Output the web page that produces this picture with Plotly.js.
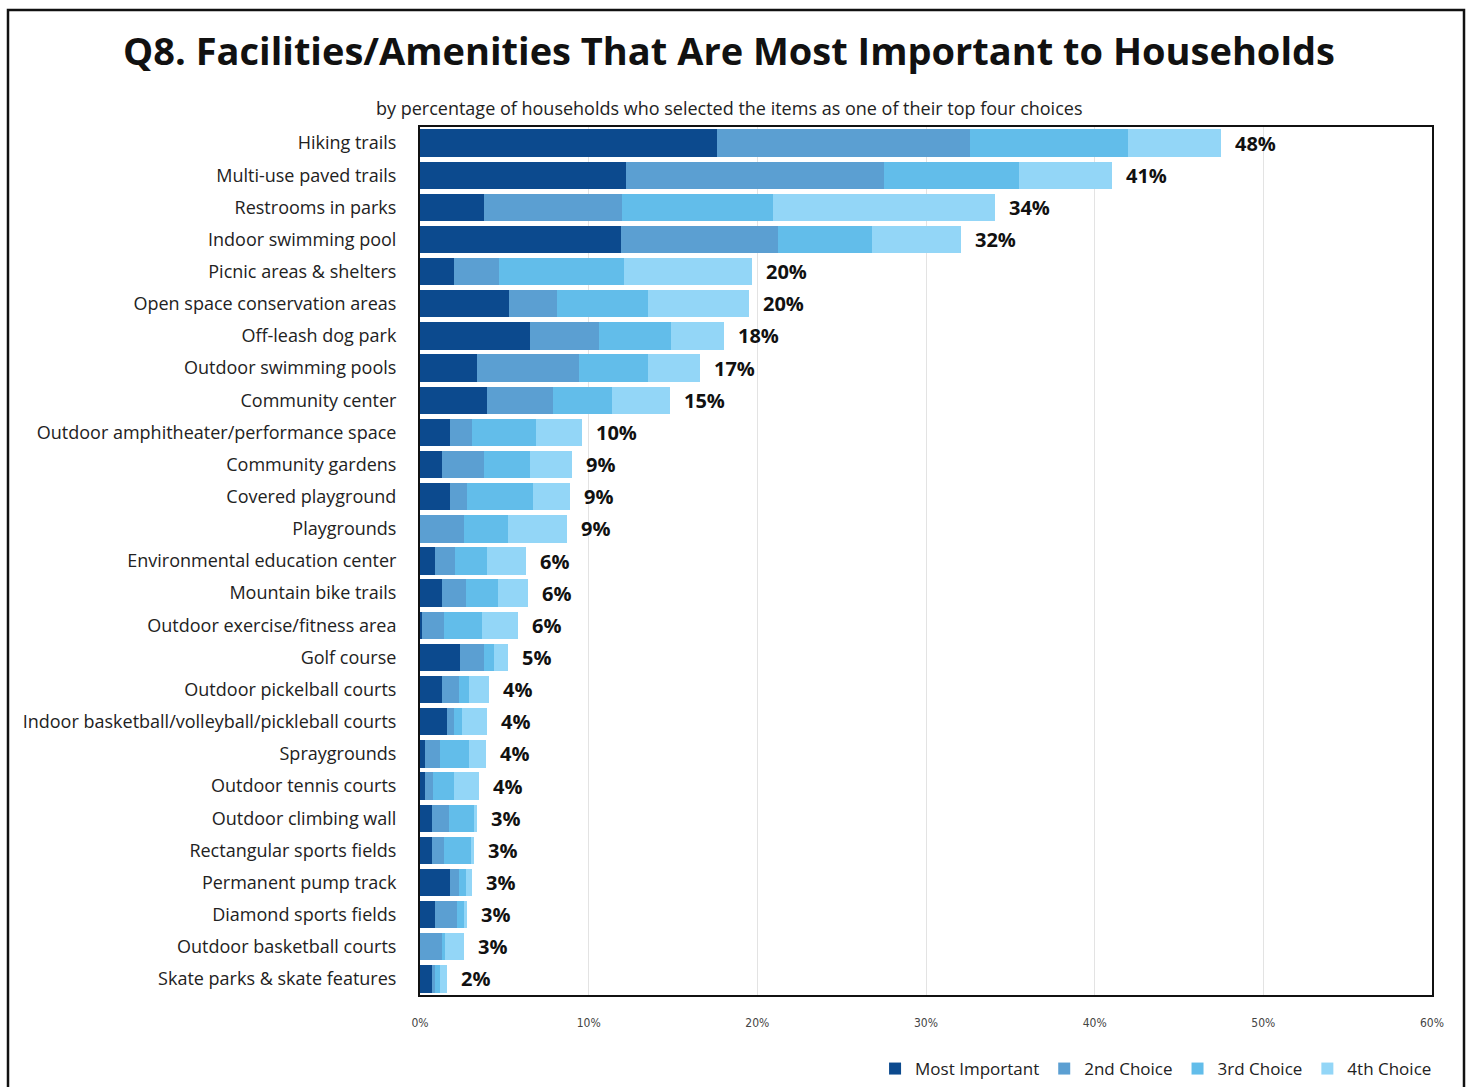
<!DOCTYPE html>
<html>
<head>
<meta charset="utf-8">
<script src="https://cdn.plot.ly/plotly-3.0.1.min.js"></script>
<style>html,body{margin:0;padding:0;background:#fff;}#chart{width:1470px;height:1087px;}</style>
</head>
<body>
<div id="chart"></div>
<script>
const categories = [
  "Hiking trails","Multi-use paved trails","Restrooms in parks","Indoor swimming pool",
  "Picnic areas & shelters","Open space conservation areas","Off-leash dog park",
  "Outdoor swimming pools","Community center","Outdoor amphitheater/performance space",
  "Community gardens","Covered playground","Playgrounds","Environmental education center",
  "Mountain bike trails","Outdoor exercise/fitness area","Golf course","Outdoor pickelball courts",
  "Indoor basketball/volleyball/pickleball courts","Spraygrounds","Outdoor tennis courts",
  "Outdoor climbing wall","Rectangular sports fields","Permanent pump track",
  "Diamond sports fields","Outdoor basketball courts","Skate parks & skate features"
];
const mostImportant = [17.6,12.2,3.8,11.9,2.0,5.3,6.5,3.4,4.0,1.8,1.3,1.8,0.0,0.9,1.3,0.1,2.4,1.3,1.6,0.3,0.3,0.7,0.7,1.8,0.9,0.0,0.7];
const secondChoice  = [15.0,15.3,8.2,9.3,2.7,2.8,4.1,6.0,3.9,1.3,2.5,1.0,2.6,1.2,1.4,1.3,1.4,1.0,0.4,0.9,0.5,1.0,0.7,0.5,1.3,1.3,0.2];
const thirdChoice   = [9.4,8.0,8.9,5.6,7.4,5.4,4.3,4.1,3.5,3.8,2.7,3.9,2.6,1.9,1.9,2.3,0.6,0.6,0.5,1.7,1.2,1.5,1.6,0.4,0.4,0.2,0.3];
const fourthChoice  = [5.5,5.5,13.2,5.3,7.6,6.0,3.1,3.1,3.4,2.7,2.5,2.2,3.5,2.3,1.8,2.1,0.8,1.2,1.5,1.0,1.5,0.2,0.2,0.4,0.2,1.1,0.4];
const totalLabels   = ["48%","41%","34%","32%","20%","20%","18%","17%","15%","10%","9%","9%","9%","6%","6%","6%","5%","4%","4%","4%","4%","3%","3%","3%","3%","3%","2%"];
const seriesNames = ["Most Important","2nd Choice","3rd Choice","4th Choice"];
const xTicks = [0,10,20,30,40,50,60];
const xTickLabels = ["0%","10%","20%","30%","40%","50%","60%"];

const colors = ["#0c4a8e","#5b9fd2","#62bdea","#93d6f7"];
const seriesData = [mostImportant, secondChoice, thirdChoice, fourthChoice];

const traces = seriesData.map((vals, i) => ({
  type: "bar", orientation: "h", name: seriesNames[i],
  x: vals, y: categories,
  marker: {color: colors[i], line: {width: 0}},
  hoverinfo: "x+y+name"
}));

const totals = categories.map((c, k) => seriesData.reduce((s, arr) => s + arr[k], 0));
const annotations = categories.map((c, k) => ({
  x: totals[k], y: c, xref: "x", yref: "y", text: totalLabels[k],
  showarrow: false, xanchor: "left", xshift: 12,
  font: {family: "Open Sans, sans-serif", size: 20, color: "#111", weight: 700}
}));
annotations.push({
  xref: "paper", yref: "paper", x: (729-420)/1012, y: 1, yshift: 19, yanchor: "middle", xanchor: "center",
  text: "by percentage of households who selected the items as one of their top four choices",
  showarrow: false, font: {family: "Open Sans, sans-serif", size: 18, color: "#222"}
});

const layout = {
  width: 1470, height: 1087,
  margin: {l: 420, r: 38, t: 127, b: 92, autoexpand: false},
  paper_bgcolor: "#fff", plot_bgcolor: "#fff",
  barmode: "stack", bargap: 0.15,
  font: {family: "Open Sans, sans-serif", color: "#222"},
  title: {
    text: "<b>Q8. Facilities/Amenities That Are Most Important to Households</b>",
    x: (729)/1470, xref: "container", xanchor: "center",
    y: 1 - 52/1087, yref: "container", yanchor: "middle",
    font: {family: "Open Sans, sans-serif", size: 38, color: "#111"}
  },
  xaxis: {
    range: [0, 60], tickvals: xTicks, ticktext: xTickLabels,
    showgrid: true, gridcolor: "#e3e3e3", gridwidth: 1,
    zeroline: false, showline: true, linecolor: "#111", linewidth: 2, mirror: true,
    ticks: "", ticklabelstandoff: 16,
    tickfont: {family: "DejaVu Sans Condensed, DejaVu Sans, sans-serif", size: 12, color: "#444"},
    fixedrange: true
  },
  yaxis: {
    type: "category", autorange: "reversed",
    showline: true, linecolor: "#111", linewidth: 2, mirror: true,
    ticks: "", ticklabelstandoff: 18,
    tickfont: {family: "Open Sans, sans-serif", size: 18, color: "#222"},
    fixedrange: true
  },
  legend: {
    orientation: "h", x: 1.005, xanchor: "right", y: (995-1069)/868, yanchor: "middle",
    traceorder: "normal", itemwidth: 30, entrywidthmode: "pixels",
    font: {family: "Open Sans, sans-serif", size: 17, color: "#222"}
  },
  annotations: annotations,
  shapes: [{
    type: "rect", xref: "paper", yref: "paper",
    x0: (8-420)/1012, x1: (1464-420)/1012, y0: (995-1095)/868, y1: (995-10)/868,
    line: {color: "#111", width: 2.5}, fillcolor: "rgba(0,0,0,0)", layer: "below"
  }],
  showlegend: true
};

Plotly.newPlot("chart", traces, layout, {displayModeBar: false, staticPlot: false});
</script>
</body>
</html>
